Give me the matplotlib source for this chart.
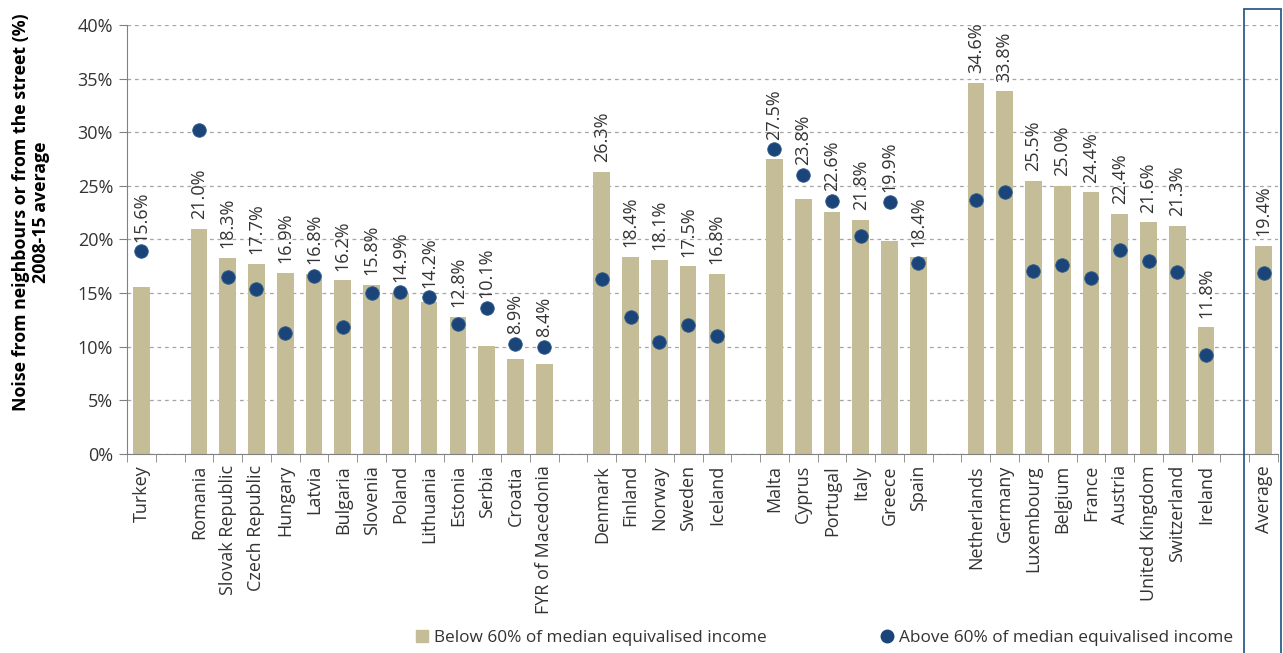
import matplotlib
matplotlib.use("Agg")
import matplotlib.pyplot as plt
from matplotlib.lines import Line2D
from matplotlib.patches import Rectangle
import numpy as np

plt.rcParams['font.family'] = ['Open Sans', 'DejaVu Sans']

# Data: country groups, bar values (below 60%) and dot values (above 60%)
countries = ['Turkey',
             'Romania', 'Slovak Republic', 'Czech Republic', 'Hungary', 'Latvia', 'Bulgaria',
             'Slovenia', 'Poland', 'Lithuania', 'Estonia', 'Serbia', 'Croatia', 'FYR of Macedonia',
             'Denmark', 'Finland', 'Norway', 'Sweden', 'Iceland',
             'Malta', 'Cyprus', 'Portugal', 'Italy', 'Greece', 'Spain',
             'Netherlands', 'Germany', 'Luxembourg', 'Belgium', 'France', 'Austria',
             'United Kingdom', 'Switzerland', 'Ireland',
             'Average']
group_sizes = [1, 13, 5, 6, 9, 1]
below = [15.6,
         21.0, 18.3, 17.7, 16.9, 16.8, 16.2, 15.8, 14.9, 14.2, 12.8, 10.1, 8.9, 8.4,
         26.3, 18.4, 18.1, 17.5, 16.8,
         27.5, 23.8, 22.6, 21.8, 19.9, 18.4,
         34.6, 33.8, 25.5, 25.0, 24.4, 22.4, 21.6, 21.3, 11.8,
         19.4]
above = [18.9,
         30.2, 16.5, 15.4, 11.3, 16.6, 11.8, 15.0, 15.1, 14.6, 12.1, 13.6, 10.3, 10.0,
         16.3, 12.8, 10.4, 12.0, 11.0,
         28.4, 26.0, 23.6, 20.3, 23.5, 17.8,
         23.7, 24.4, 17.1, 17.6, 16.4, 19.0, 18.0, 17.0, 9.2,
         16.9]

bar_color = '#C4BD97'
dot_color = '#1B4478'
text_color = '#333333'

# x positions with one empty slot between groups
pos = []
x = 0
for g in group_sizes:
    for i in range(g):
        pos.append(x)
        x += 1
    x += 1
pos = np.array(pos)
nslots = pos[-1] + 1

fig = plt.figure(figsize=(12.83, 6.53), dpi=100)
ax = fig.add_axes([127/1283, 1 - 454/653, (1278 - 127)/1283, (454 - 25)/653])

ax.bar(pos, below, width=0.58, color=bar_color, zorder=2)
ax.scatter(pos, above, s=95, color=dot_color, edgecolor='#2F5C8F', linewidth=0.6, zorder=3)

# labels sit above the bar, or above the dot when it is just over the bar
for p, b, a in zip(pos, below, above):
    base = a if 0 < a - b < 5 else b
    ax.annotate('%.1f%%' % b, xy=(p, base), xytext=(0, 7), textcoords='offset points',
                rotation=90, ha='center', va='bottom', fontsize=13, color=text_color, zorder=4)

ax.set_xlim(-0.5, nslots - 0.5)
ax.set_ylim(0, 40)
ax.set_yticks(np.arange(0, 41, 5))
ax.set_yticklabels(['%d%%' % v for v in range(0, 41, 5)], fontsize=13, color=text_color)
ax.yaxis.grid(True, linestyle=(0, (3, 3)), color='#A6A6A6', linewidth=0.9, zorder=0)
ax.set_axisbelow(True)

ax.set_xticks(pos)
ax.set_xticklabels(countries, rotation=90, fontsize=13, color=text_color)
ax.set_xticks(np.arange(-0.5, nslots, 1), minor=True)
ax.tick_params(axis='x', which='major', length=0, pad=8)
ax.tick_params(axis='x', which='minor', length=6, color='#808080')
ax.tick_params(axis='y', length=6, color='#808080', pad=4)

for s in ['top', 'right']:
    ax.spines[s].set_visible(False)
for s in ['left', 'bottom']:
    ax.spines[s].set_color('#808080')

fig.text(31/1283, 1 - 212/653, 'Noise from neighbours or from the street (%)\n2008-15 average',
         rotation=90, ha='center', va='center', fontsize=12.8, fontweight='bold',
         multialignment='center', color='black', linespacing=1.15)

# box around the average
fig.patches.append(Rectangle((1244/1283, -0.01), 37/1283, 1 - 9/653 + 0.01,
                             transform=fig.transFigure, fill=False,
                             edgecolor='#2E5C8A', linewidth=1.3))

handles = [Line2D([], [], marker='s', linestyle='none', markersize=9, color=bar_color),
           Line2D([], [], marker='o', linestyle='none', markersize=9, color=dot_color)]
fig.legend(handles, ['Below 60% of median equivalised income',
                     'Above 60% of median equivalised income'],
           loc='center', bbox_to_anchor=(824/1283, 1 - 638/653), ncol=2, frameon=False,
           fontsize=12.4, handlelength=0.8, handletextpad=0.3, columnspacing=6.6,
           labelcolor=text_color)

fig.savefig('out.png', dpi=100)
